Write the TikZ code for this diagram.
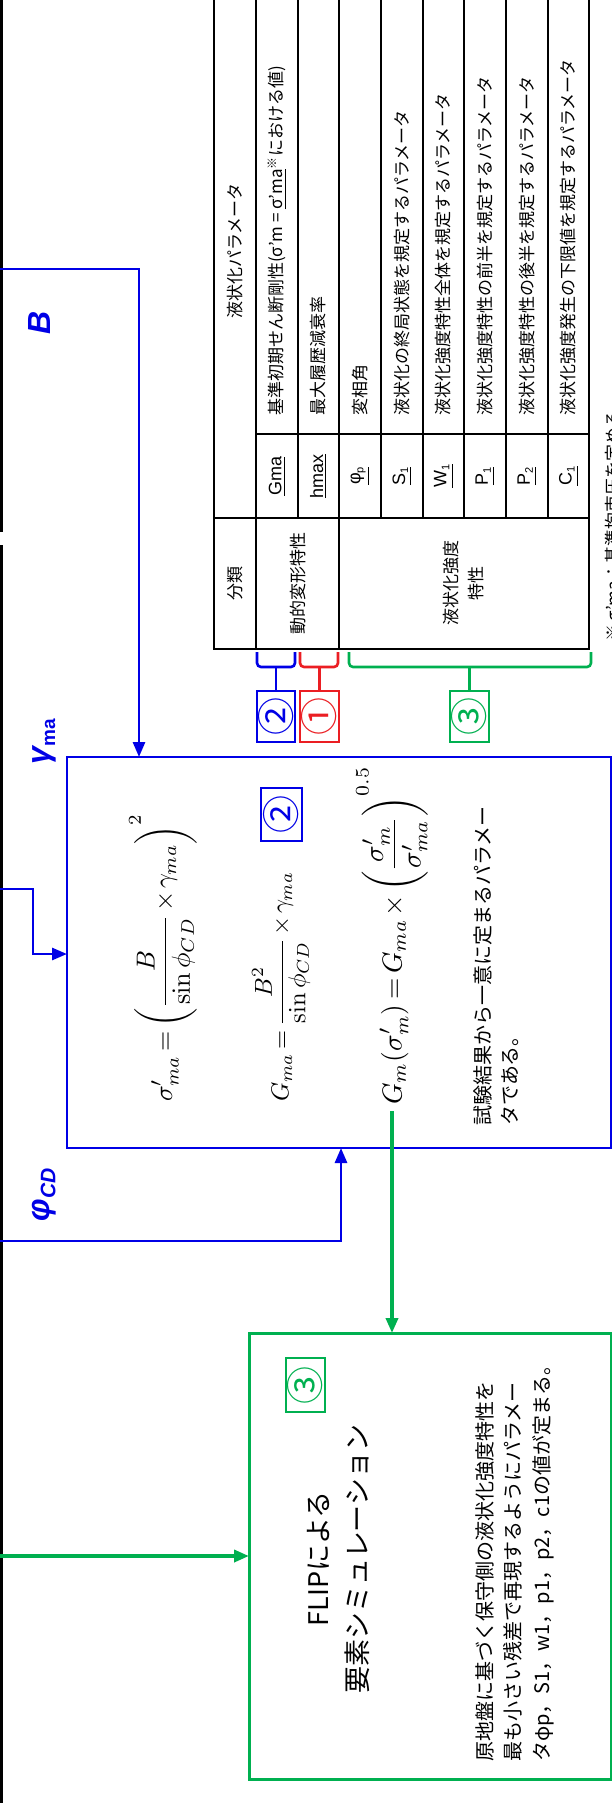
\documentclass[tikz,border=0pt]{standalone}
\usepackage[no-math]{fontspec}
\usepackage{amsmath}
\setmainfont{Liberation Sans}
\newfontfamily\jp{Noto Sans CJK JP}
\usetikzlibrary{arrows.meta,calc}
\definecolor{myblue}{RGB}{0,0,230}
\definecolor{myred}{RGB}{235,30,35}
\definecolor{mygreen}{RGB}{0,176,80}
\newcommand{\mysub}[1]{\raisebox{-3pt}{\fontsize{11}{11}\selectfont #1}}
\newcommand{\tightmath}{\thickmuskip=3mu\medmuskip=2mu}
\begin{document}
\begin{tikzpicture}[x=1pt,y=-1pt,
  jpt/.style={font=\jp\fontsize{17}{20}\selectfont, rotate=90, inner sep=0pt},
  symb/.style={font=\fontsize{18}{20}\selectfont, rotate=90, inner sep=0pt},
  tbl/.style={line width=1.6pt, black},
  bl/.style={draw=myblue, line width=2.8pt},
  arr/.style={-{Triangle[length=15pt,width=12pt]}},
  gr/.style={draw=mygreen, line width=3.6pt},
  brk/.style={line width=2.6pt, rounded corners=4pt},
  numbox/.style={draw, line width=2pt, minimum width=38pt, minimum height=51pt, inner sep=0pt, outer sep=0pt},
  numtxt/.style={rotate=90, inner sep=0pt, font=\jp\fontsize{38}{38}\selectfont},
  lbl/.style={text=myblue, rotate=90, inner sep=0pt, font=\fontsize{32}{34}\selectfont\bfseries\itshape},
  eqn/.style={rotate=90, anchor=west, inner sep=0pt}
]
\useasboundingbox (0,0) rectangle (612,1803);
\clip (0,0) rectangle (612,1803);
\fill[white] (0,0) rectangle (612,1803);

% left black border
\draw[line width=3.4pt] (1.2,-5) -- (1.2,532);
\draw[line width=3.4pt] (1.2,545) -- (1.2,1810);

% ---------- table ----------
\draw[tbl] (214,-20) -- (214,649) -- (589,649) -- (589,-20);
\draw[tbl] (256,-20) -- (256,649);
\draw[tbl] (339,-20) -- (339,649);
\foreach \x in {298,381,423,464,506,548} \draw[tbl] (\x,-20) -- (\x,518);
\draw[tbl] (214,518) -- (589,518);
\draw[tbl] (256,434) -- (589,434);

\node[jpt] (h1) at (235,583) {分類};
\node[jpt] (h2) at (235,251) {液状化パラメータ};
\node[jpt] (c1) at (298,583) {動的変形特性};
\node[jpt, align=center, font=\jp\fontsize{17}{25}\selectfont] (c2) at (464,583) {液状化強度\\特性};

\node[symb] (s1) at (277,476) {\underline{Gma}};
\node[symb] (s2) at (318.5,476) {\underline{hmax}};
\node[symb] (s3) at (360,476) {\underline{φ\mysub{p}}};
\node[symb] (s4) at (402,476) {\underline{S\mysub{1}}};
\node[symb] (s5) at (443.5,476) {\underline{W\mysub{1}}};
\node[symb] (s6) at (485,476) {\underline{P\mysub{1}}};
\node[symb] (s7) at (527,476) {\underline{P\mysub{2}}};
\node[symb] (s8) at (568.5,476) {\underline{C\mysub{1}}};

\node[jpt, anchor=west] (d1) at (277,416) {基準初期せん断剛性(σ’m = \underline{σ’ma}\textsuperscript{※}における値)};
\node[jpt, anchor=west] (d2) at (318.5,416) {最大履歴減衰率};
\node[jpt, anchor=west] (d3) at (360,416) {変相角};
\node[jpt, anchor=west] (d4) at (402,416) {液状化の終局状態を規定するパラメータ};
\node[jpt, anchor=west] (d5) at (443.5,416) {液状化強度特性全体を規定するパラメータ};
\node[jpt, anchor=west] (d6) at (485,416) {液状化強度特性の前半を規定するパラメータ};
\node[jpt, anchor=west] (d7) at (527,416) {液状化強度特性の後半を規定するパラメータ};
\node[jpt, anchor=west] (d8) at (568.5,416) {液状化強度発生の下限値を規定するパラメータ};
\node[jpt, anchor=west] (note) at (613,642) {※ σ’ma：基準拘束圧を定める};

% ---------- brackets and number boxes ----------
\node[numbox, draw=myblue] (n2) at (276,716.5) {};
\node[numtxt, text=myblue] (n2t) at (n2.center) {②};
\node[numbox, draw=myred, minimum width=39pt] (n1) at (319.5,716.5) {};
\node[numtxt, text=myred] (n1t) at (n1.center) {①};
\node[numbox, draw=mygreen, minimum width=39pt] (n3) at (469.5,716.5) {};
\node[numtxt, text=mygreen] (n3t) at (n3.center) {③};
\coordinate (brky) at (0,667);
\draw[brk, myblue] (257,652) -- (257,667) -- (295,667) -- (295,652);
\draw[myblue, line width=2.6pt] (n2.north |- brky) -- (n2.north);
\draw[brk, myred] (300,652) -- (300,667) -- (338,667) -- (338,652);
\draw[myred, line width=2.6pt] (n1.north |- brky) -- (n1.north);
\draw[brk, mygreen] (349,652) -- (349,667) -- (591,667) -- (591,652);
\draw[mygreen, line width=2.6pt] (n3.north |- brky) -- (n3.north);

% ---------- equation box ----------
\node[bl, minimum width=544pt, minimum height=391pt, inner sep=0pt, outer sep=0pt, anchor=north west] (eqbox) at (67,757) {};
\node[eqn] (eq1) at (163,1102) {\scalebox{2.6}{\tightmath$\displaystyle \sigma'_{ma}=\left(\frac{B}{\sin\phi_{CD}}\times\gamma_{ma}\right)^{2}$}};
\node[eqn] (eq2) at (281,1102) {\scalebox{2.45}{\tightmath$\displaystyle G_{ma}=\frac{B^{2}}{\sin\phi_{CD}}\times\gamma_{ma}$}};
\node[numbox, draw=myblue, minimum width=41pt, minimum height=53pt] (eqn2) at (281.5,814.5) {};
\node[numtxt, text=myblue] (eqn2t) at (eqn2.center) {②};
\node[eqn] (eq3) at (392,1105) {\scalebox{2.75}{\tightmath$\displaystyle G_{m}(\sigma'_{m})=G_{ma}\times\left(\frac{\sigma'_{m}}{\sigma'_{ma}}\right)^{0.5}$}};
\node[rotate=90, anchor=north west, inner sep=0pt, align=left, font=\jp\fontsize{20}{27}\selectfont] (eqnote) at (473,1126) {試験結果から一意に定まるパラメー\\タである。};

% ---------- green box ----------
\node[draw=mygreen, line width=3pt, minimum width=362pt, minimum height=446pt, inner sep=0pt, outer sep=0pt, anchor=north west] (gbox) at (249,1333) {};
\node[numbox, draw=mygreen, minimum width=39pt, minimum height=54pt] (g3) at (305.5,1385) {};
\node[numtxt, text=mygreen] (g3t) at (g3.center) {③};
\node[rotate=90, inner sep=0pt, align=center, font=\jp\fontsize{27}{39}\selectfont] (gtitle) at (339,1559) {FLIPによる\\要素シミュレーション};
\node[rotate=90, anchor=north west, inner sep=0pt, align=left, font=\jp\fontsize{20}{28.5}\selectfont] (gnote) at (475,1762) {原地盤に基づく保守側の液状化強度特性を\\最も小さい残差で再現するようにパラメー\\タφp，S1，w1，p1，p2，c1の値が定まる。};

% ---------- labels ----------
\node[lbl] (lb) at (39,323) {B};
\node[lbl] (lg) at (44,742) {γ\raisebox{-6pt}{\fontsize{19}{19}\selectfont\upshape ma}};
\node[lbl] (lp) at (44,1195) {φ\raisebox{-6pt}{\fontsize{21}{21}\selectfont CD}};

% ---------- connectors ----------
\coordinate (bsrc) at (0,269);
\coordinate (bx) at (139,0);
\draw[bl, arr] (bsrc) -| (bx |- eqbox.north);
\coordinate (ssrc) at (0,889);
\coordinate (sbend) at (33,954);
\draw[bl, arr] (ssrc) -| (sbend) -- (eqbox.west |- sbend);
\coordinate (psrc) at (0,1241);
\coordinate (pxx) at (341,0);
\draw[bl, arr] (psrc) -| (pxx |- eqbox.south);
\coordinate (gstart) at (392,1111);
\draw[gr, arr] (gstart) -- (gstart |- gbox.north);
\coordinate (gin) at (0,1556);
\draw[gr, arr] (gin) -- (gin -| gbox.west);
\end{tikzpicture}
\end{document}
